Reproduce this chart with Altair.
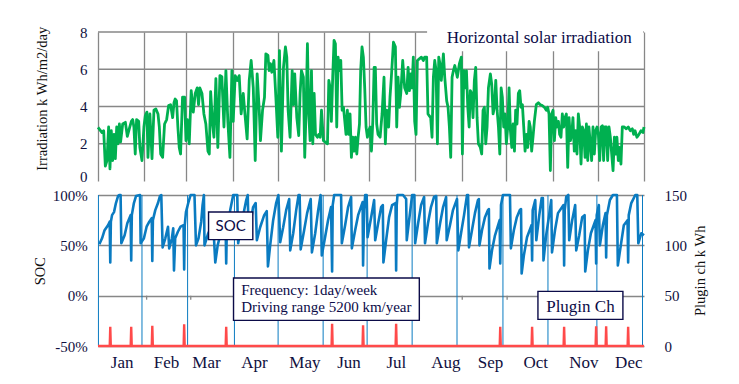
import altair as alt
import pandas as pd

GREEN = "#00b050"
BLUE = "#0a7bc1"
RED = "#ff4a4a"
NAVY = "#0b0b48"
GRID = "#878787"
SERIF = "Liberation Serif"

# ---------------- data ----------------
irr_day = [0, 2.7, 3.8, 4.9, 6.0, 7.1, 8.0, 8.9, 9.8, 10.7, 11.6, 12.5, 13.4, 14.3, 15.1, 16.5, 18.3, 19.6, 20.9, 22.3,
           23.2, 24.0, 24.9, 25.8, 27.2, 28.0, 29.4, 30.7, 31.6, 32.7, 33.4, 34.7, 36.1, 37.4, 38.7, 40.1, 41.0, 41.9, 43.2, 44.5,
           45.9, 47.2, 48.5, 49.9, 50.8, 51.6, 52.5, 53.4, 54.3, 55.2, 56.5, 57.9, 58.8, 59.7, 61.0, 62.3, 63.7, 65.0, 66.3, 67.2,
           68.1, 69.5, 70.8, 72.1, 73.5, 74.4, 75.3, 76.6, 77.5, 78.8, 80.1, 81.5, 82.8, 84.2, 85.5, 86.8, 88.2, 89.5, 90.4, 91.7,
           93.1, 94.4, 95.7, 97.1, 98.0, 99.7, 101.1, 102.4, 103.8, 105.1, 106.4, 107.8, 108.6, 110.0, 111.3, 112.2, 113.6, 114.4, 115.3, 116.2,
           117.6, 118.9, 120.2, 121.3,
           122.6, 124.0, 125.3, 126.2, 127.1, 128.4, 129.8, 130.7, 131.5, 132.9, 134.2, 135.1, 136.0, 137.3, 138.2, 139.1, 140.0, 140.9, 141.8, 142.7,
           143.6, 144.5, 145.4, 146.7, 147.6, 148.5, 149.4, 150.7, 152.0, 153.4, 154.3, 155.2, 156.0, 156.9, 157.8, 158.7, 159.6, 160.5, 161.4, 162.3,
           163.2, 164.1, 165.0, 165.8, 166.7, 167.6, 168.5, 169.4, 170.3, 171.2, 172.1, 173.0, 173.9, 174.8, 175.6, 176.5, 177.4, 178.3, 179.2, 180.1,
           181.0, 181.9, 182.8, 183.7, 184.6, 185.4, 186.3, 187.2, 188.6, 189.9, 191.2, 192.1, 193.0, 194.3, 195.2, 196.1, 197.5, 198.8, 199.7, 200.6,
           201.5, 202.4, 203.7, 205.0, 206.4, 207.3, 208.2, 209.1, 209.9, 210.8, 211.7, 212.6, 213.5, 214.8, 216.2, 217.5, 218.4, 219.7, 220.6, 221.5,
           222.4, 223.3, 224.2, 225.1, 226.0, 226.9, 227.8, 228.6, 229.5, 230.9, 231.8, 233.1, 234.0, 234.9, 235.8, 236.7, 237.6, 238.5, 239.3, 240.2,
           241.6, 242.9,
           243.6, 244.5, 245.4, 246.3, 247.2, 248.1, 248.9, 249.8, 250.7, 251.6, 252.5, 253.4, 254.3, 255.6, 256.5, 257.4, 258.3, 259.2, 260.1, 261.0,
           262.3, 263.2, 264.1, 265.0, 265.9, 266.8, 267.7, 268.6, 269.5, 270.3, 271.2, 272.1, 273.0, 273.9, 274.8, 275.7, 276.6, 277.5, 278.4, 279.2,
           280.1, 281.0, 281.9, 282.8, 283.7, 284.6, 285.5, 286.4, 287.3, 288.2, 289.0, 289.9, 290.8, 291.7, 293.0, 294.4, 295.7, 297.0, 298.4, 299.7,
           300.6, 301.5, 302.4, 303.3, 304.2, 305.1, 306.0, 306.9, 307.8, 308.6, 309.5, 310.4, 311.3, 312.2, 313.1, 314.0, 314.9, 315.8, 316.7, 317.5,
           318.4, 319.3, 320.2, 321.1, 322.0, 322.9, 323.8, 324.7, 325.6, 326.5, 327.4, 328.2, 329.1, 330.0, 330.9, 331.8, 332.7, 333.6, 334.5, 335.4,
           336.3, 337.2, 338.0, 338.9, 339.8, 340.7, 341.6, 342.5, 343.4, 344.3, 345.2, 346.0, 346.9, 347.8, 348.7, 349.6, 350.5, 351.8, 353.2, 354.5,
           355.8, 357.2, 358.1, 359.0, 360.3, 361.6, 363.0, 364.3, 365.0]
irr_val = [2.88, 2.6, 2.7, 0.8, 1.1, 2.9, 0.65, 2.7, 1.1, 2.5, 1.2, 2.9, 2.0, 3.06, 2.1, 3.06, 3.15, 2.4, 2.8, 3.2,
           3.3, 2.9, 1.45, 3.3, 3.2, 1.8, 1.1, 2.9, 3.5, 3.7, 1.27, 3.6, 1.2, 3.8, 3.87, 3.6, 2.9, 1.45, 1.27, 3.06,
           3.3, 4.05, 4.1, 3.4, 4.2, 4.4, 4.3, 2.9, 1.8, 1.45, 4.5, 4.5, 2.17, 3.3, 2.0, 4.85, 3.7, 4.7, 5.0, 4.1,
           5.0, 4.7, 3.6, 3.06, 1.6, 1.45, 4.8, 3.06, 2.35, 5.5, 1.8, 5.66, 5.6, 2.9, 5.93, 3.2, 1.27, 5.93, 3.2, 5.66,
           5.4, 5.66, 3.6, 4.7, 3.8, 2.26, 5.4, 6.47, 5.0, 1.1, 5.75, 3.8, 2.17, 3.8, 4.5, 6.83, 6.74, 5.93, 6.3, 5.84,
           6.47, 4.5, 2.35, 7.0,
           1.6, 6.1, 7.2, 6.65, 3.8, 2.35, 5.93, 4.1, 5.75, 3.4, 2.44, 4.7, 5.93, 5.57, 1.27, 3.8, 7.37, 3.6, 2.17, 5.93,
           2.0, 4.7, 2.5, 2.35, 2.5, 2.35, 3.8, 2.17, 2.08, 2.0, 5.4, 5.0, 3.2, 5.57, 7.55, 7.37, 2.9, 6.65, 5.93, 6.47,
           3.8, 3.96, 3.2, 2.5, 3.8, 2.5, 3.6, 1.27, 2.35, 1.6, 2.35, 1.45, 2.35, 3.06, 5.93, 7.2, 6.65, 5.0, 2.9, 2.35,
           2.7, 2.9, 1.6, 3.2, 6.1, 6.1, 3.06, 2.5, 2.35, 3.6, 5.57, 2.0, 3.8, 2.9, 4.5, 5.57, 7.45, 7.2, 2.9, 5.57,
           3.96, 4.7, 6.47, 5.0, 4.7, 6.1, 4.85, 5.75, 5.0, 6.65, 3.2, 2.5, 6.47, 6.56, 6.65, 6.47, 6.65, 6.65, 3.6, 3.5,
           3.4, 2.35, 5.57, 6.47, 5.93, 2.0, 6.65, 6.3, 5.4, 6.83, 5.57, 4.3, 3.96, 2.9, 1.27, 5.57, 5.93, 6.2, 5.93, 5.57,
           6.3, 6.65,
           1.45, 5.93, 5.0, 5.93, 3.96, 2.9, 4.85, 4.7, 3.4, 5.4, 6.1, 3.4, 2.0, 1.8, 1.45, 3.8, 3.96, 2.0, 2.9, 5.0,
           5.75, 5.2, 3.6, 3.96, 5.4, 3.8, 2.9, 1.45, 5.0, 4.5, 2.9, 3.6, 2.0, 2.9, 5.0, 2.7, 1.8, 3.06, 1.6, 3.8,
           3.06, 4.7, 4.85, 3.96, 4.1, 2.9, 1.6, 2.5, 1.8, 3.2, 2.9, 1.6, 2.35, 3.2, 4.1, 4.2, 4.1, 4.05, 3.96, 3.8,
           3.96, 3.6, 0.56, 3.6, 3.8, 2.17, 3.4, 2.9, 3.2, 2.5, 2.35, 3.6, 2.9, 3.4, 3.6, 0.73, 3.4, 2.17, 2.5, 3.4,
           1.6, 2.7, 1.45, 3.6, 2.9, 0.91, 2.9, 2.7, 1.27, 3.06, 1.1, 2.9, 2.0, 1.1, 2.9, 1.45, 2.7, 2.9, 2.5, 1.1,
           2.9, 2.97, 1.1, 2.9, 2.9, 1.1, 2.9, 2.35, 1.45, 0.56, 2.35, 1.45, 2.35, 1.1, 1.8, 0.91, 2.9, 2.9, 2.8, 2.9,
           2.7, 2.8, 2.5, 2.7, 2.35, 2.5, 2.7, 2.6, 2.9]

soc_day = [0.9, 2.7, 4.4, 6.7, 7.8, 8.2, 8.6, 9.4, 10.7, 12.0, 13.4, 14.2, 15.1, 15.6, 17.8, 19.6, 21.8, 22.2, 22.6, 24.0,
           25.4, 28.1, 28.5, 30.7, 32.5, 34.3, 35.9, 36.3, 36.7, 38.3, 40.1, 41.4, 42.3, 43.2, 45.0, 46.8, 47.6, 49.4, 50.3, 50.8,
           51.6, 53.4, 55.2, 57.2, 57.6, 58.0, 58.8, 60.5, 61.9, 64.5, 65.5, 67.2, 69.0, 69.9, 70.8, 71.2, 73.7, 77.0, 78.4, 80.0,
           82.0, 84.0, 85.3, 85.7, 86.1, 88.4, 90.4, 93.1,
           93.7, 96.4, 99.1, 100.1, 100.7, 101.7, 103.7, 105.4, 106.2, 108.4, 111.1, 112.8, 113.6, 115.1, 117.1, 119.1, 120.6,
           121.8, 123.8, 125.8, 127.8, 128.5, 130.5, 132.5, 134.1, 134.8, 135.5, 137.8, 139.8, 142.2, 143.0, 145.2, 147.2, 148.8, 149.6,
           151.8, 153.8, 155.8, 156.5, 156.9, 157.9, 162.5, 163.0, 165.2, 167.2, 169.2, 169.7, 171.9, 173.9, 176.9, 177.2, 177.9, 178.6,
           179.6, 180.2, 182.6, 184.6, 185.3, 187.3, 189.3, 190.4, 190.8, 192.6, 194.6, 196.6, 198.9, 199.3, 199.7, 200.2, 203.9, 206.0,
           206.4, 208.0, 210.0, 211.5, 212.0, 214.0, 216.0, 218.0, 218.6, 220.6, 222.6, 224.6, 226.1, 226.5, 228.7, 230.7, 232.7, 233.1,
           235.3, 237.3, 240.0, 240.9,
           242.7, 244.7, 246.7, 247.4, 248.0, 250.0, 252.0, 254.0, 254.6, 255.0, 256.7, 258.7, 260.7, 261.3, 261.7, 263.4, 265.4, 268.5,
           268.9, 269.4, 270.7, 275.4, 276.0, 278.0, 280.0, 282.0, 282.8, 283.2, 284.7, 286.8, 289.8, 290.2, 290.6, 292.3, 293.0, 295.0,
           296.6, 297.4, 297.8, 299.6, 301.6, 303.0, 303.5, 305.5, 307.5, 311.2, 311.6, 312.0, 313.0, 314.4, 315.0, 317.0, 319.0, 319.7,
           321.7, 323.7, 325.3, 325.7, 327.5, 329.5, 332.6, 333.0, 333.4, 334.8, 335.5, 337.5, 339.3, 339.7, 340.2, 342.2, 344.2, 346.9,
           347.5, 349.5, 351.5, 354.0, 354.4, 354.8, 356.5, 359.2, 360.5, 361.2, 363.2, 365.0]
soc_val = [51, 57, 65, 70, 73.5, 33, 73.5, 80, 83, 92, 99, 100, 100, 52, 60, 72, 80, 35, 80, 92,
           99, 100, 52, 57, 68.5, 73.5, 77, 34.5, 75, 85, 92, 99, 100, 48, 57, 68.5, 47, 57, 67, 25,
           57, 63.5, 68.5, 70, 26, 70, 83, 93, 100, 100, 50, 57, 73.5, 90, 100, 50, 62, 72, 33, 50,
           62, 68, 70, 32, 65, 85, 100, 100,
           52, 75, 95, 100, 60, 70, 88, 92, 55, 68, 80, 84, 29, 50, 75, 92, 100,
           53, 68, 85, 96, 45, 62, 85, 100, 100, 46, 65, 82, 96, 43, 62, 85, 100, 40,
           58, 75, 88, 24, 90, 100, 100, 52, 70, 88, 98, 47, 65, 80, 93, 30, 85, 100,
           100, 58, 78, 95, 55, 72, 88, 90, 33, 55, 78, 90, 92, 25, 90, 100, 100, 96,
           55, 75, 100, 100, 52, 72, 90, 98, 52, 72, 88, 98, 99, 52, 72, 88, 98, 55,
           70, 85, 96, 45,
           62, 80, 100, 100, 48, 65, 82, 95, 96, 50, 65, 78, 85, 86, 27, 45, 60, 75,
           32, 90, 100, 100, 47, 65, 78, 85, 86, 22, 40, 58, 70, 35, 85, 95, 55, 80,
           97, 97, 35, 60, 80, 95, 43, 65, 82, 90, 30, 85, 98, 100, 55, 75, 90, 45,
           60, 78, 80, 24, 45, 62, 75, 32, 80, 90, 50, 70, 82, 38, 80, 95, 100, 100,
           30, 50, 70, 75, 33, 80, 92, 100, 100, 52, 62, 60]

plug_day = [8.2, 22.2, 36.3, 57.6, 85.7, 156.5, 177.2, 199.3, 268.9, 290.2, 311.6, 333.0, 339.7, 354.4]
plug_val = [19, 19, 20, 21.5, 19, 22, 20.5, 22, 19, 19, 19, 19.5, 19.5, 19]

irr_ticks = [0, 2, 4, 6, 8]
irr_grid = [2, 4, 6, 8]
month_start_day = [0, 31, 59, 90, 120, 151, 181, 212, 243, 273, 304, 334, 365]
soc_rule_day = [0.3, 29.4, 59.9, 91.2, 120.4, 150.5, 179.9, 210, 240, 270.7, 300.8, 333.5, 364.0]
zero_tick_day = [32.5, 62, 92, 122, 152.5, 183, 213, 243.5, 273.5, 304.5, 335]
month_names = ["Jan", "Feb", "Mar", "Apr", "May", "Jun", "Jul", "Aug", "Sep", "Oct", "Nov", "Dec"]
month_label_day = [15.8, 45.5, 72.2, 104.3, 138.0, 167.5, 199.1, 232.2, 262.0, 292.3, 324.4, 354.5]

# ---------------- frames ----------------
irr_df = pd.DataFrame({"day": irr_day, "irr": irr_val})
soc_df = pd.DataFrame({"day": soc_day, "soc": soc_val, "i": range(len(soc_day))})

pl_rows = [(0.0, 0.0)]
for d, v in zip(plug_day, plug_val):
    pl_rows += [(d - 0.35, 0.0), (d, v), (d + 0.35, 0.0)]
pl_rows.append((365.0, 0.0))
plug_df = pd.DataFrame({"day": [r[0] for r in pl_rows], "kwh": [r[1] for r in pl_rows], "i": range(len(pl_rows))})

x_scale = alt.Scale(domain=[0, 365], nice=False, zero=False)
irr_scale = alt.Scale(domain=[0, 8], nice=False)

# ---------------- top panel ----------------
top_x_axis = alt.Axis(values=month_start_day, labels=False, ticks=False, domain=False, grid=True,
                      gridColor=GRID, gridWidth=1.3, title=None)
top_y_axis = alt.Axis(values=irr_ticks, grid=False, domain=False, ticks=False, labelPadding=11,
                      labelFlush=False, labelOverlap=False, tickCount=5,
                      labelBaseline={"condition": {"test": "datum.value === 0", "value": "alphabetic"},
                                     "value": "middle"},
                      title="Irradiation k Wh/m2/day", titleX=-55.7, titleY=66.3, titleBaseline="middle")

top_grid = alt.Chart(pd.DataFrame({"irr": irr_grid})).mark_rule(color=GRID, strokeWidth=1.3).encode(
    x=alt.datum(0, scale=x_scale, axis=top_x_axis), x2=alt.datum(365),
    y=alt.Y("irr:Q", scale=irr_scale, axis=top_y_axis))
top_line = alt.Chart(irr_df).mark_line(color=GREEN, strokeWidth=2.8, strokeJoin="round").encode(
    x=alt.X("day:Q", scale=x_scale, axis=top_x_axis),
    y=alt.Y("irr:Q", scale=irr_scale, axis=top_y_axis),
)
top_box = alt.Chart(pd.DataFrame({"day": [220], "day2": [364.5], "irr": [8.08], "irr2": [6.96]})).mark_rect(
    color="white").encode(x=alt.X("day:Q", scale=x_scale, axis=top_x_axis), x2="day2:Q",
                          y=alt.Y("irr:Q", scale=irr_scale, axis=top_y_axis), y2="irr2:Q")
top_text = alt.Chart(pd.DataFrame({"day": [233.1], "irr": [7.43], "label": ["Horizontal solar irradiation"]})).mark_text(
    align="left", baseline="alphabetic", font=SERIF, fontSize=17, color=NAVY).encode(
    x=alt.X("day:Q", scale=x_scale, axis=top_x_axis), y=alt.Y("irr:Q", scale=irr_scale, axis=top_y_axis),
    text="label:N")
top = alt.layer(top_grid, top_line, top_box, top_text).properties(width=546, height=149)

# ---------------- bottom panel ----------------
mids = [(month_label_day[k] + month_label_day[k + 1]) / 2 for k in range(len(month_label_day) - 1)]
label_expr = "".join(f"datum.value < {m:.2f} ? '{n}' : " for m, n in zip(mids, month_names[:-1])) + f"'{month_names[-1]}'"

bot_x_axis = alt.Axis(values=month_label_day, labelExpr=label_expr, ticks=False, domain=False, grid=False,
                      labelFontSize=17, labelPadding=16, labelBaseline="middle", labelFlush=False,
                      labelOverlap=False, title=None)

soc_line = alt.Chart(soc_df).mark_line(color=BLUE, strokeWidth=2.6, strokeJoin="round").encode(
    x=alt.X("day:Q", scale=x_scale, axis=bot_x_axis),
    y=alt.Y("soc:Q", scale=alt.Scale(domain=[-50, 100], nice=False),
            axis=alt.Axis(values=[-50, 0, 50, 100], labelExpr="datum.value + '%'", grid=True, gridColor=GRID,
                          gridWidth=1.3, domain=False, ticks=False, labelPadding=10.7, labelFlush=False,
                          labelOverlap=False, title="SOC", titleX=-57.7, titleY=75.6, titleBaseline="middle")),
    order="i:Q",
)
soc_rules = alt.Chart(pd.DataFrame({"day": soc_rule_day})).mark_rule(color=BLUE, strokeWidth=1).encode(
    x=alt.X("day:Q", scale=x_scale, axis=bot_x_axis), y=alt.datum(100), y2=alt.datum(-50))
zero_ticks = alt.Chart(pd.DataFrame({"day": zero_tick_day})).mark_rule(color=GRID, strokeWidth=1.3).encode(
    x=alt.X("day:Q", scale=x_scale, axis=bot_x_axis), y=alt.datum(0), y2=alt.datum(-4))
layer_a = alt.layer(soc_line, soc_rules, zero_ticks)

kwh_scale = alt.Scale(domain=[0, 150], nice=False)
kwh_axis = alt.Axis(orient="right", values=[0, 50, 100, 150], grid=False, domain=False, ticks=False,
                    labelPadding=20, labelFlush=False, labelOverlap=False, title="Plugin ch k Wh",
                    titleX=56, titleY=75.3, titleAngle=270, titleBaseline="middle")

plug_line = alt.Chart(plug_df).mark_line(color=RED, strokeWidth=2.4).encode(
    x=alt.X("day:Q", scale=x_scale, axis=bot_x_axis),
    y=alt.Y("kwh:Q", scale=kwh_scale, axis=kwh_axis),
    order="i:Q",
)
boxes = alt.Chart(pd.DataFrame({"day": [73.9, 90.6, 294.1], "day2": [103.5, 214.8, 350.9],
                                "kwh": [133.1, 67.5, 54.3], "kwh2": [105.7, 25.5, 26.4]})).mark_rect(
    fill="white", stroke=NAVY, strokeWidth=1.4).encode(
    x=alt.X("day:Q", scale=x_scale, axis=bot_x_axis), x2="day2:Q",
    y=alt.Y("kwh:Q", scale=kwh_scale, axis=kwh_axis), y2="kwh2:Q")
freq_text = alt.Chart(pd.DataFrame({"day": [95.7, 95.7], "kwh": [50.3, 33.7],
                                    "label": ["Frequency: 1day/week", "Driving range 5200 km/year"]})).mark_text(
    align="left", baseline="alphabetic", font=SERIF, fontSize=15, color=NAVY).encode(
    x=alt.X("day:Q", scale=x_scale, axis=bot_x_axis), y=alt.Y("kwh:Q", scale=kwh_scale, axis=kwh_axis),
    text="label:N")
plug_text = alt.Chart(pd.DataFrame({"day": [322.5], "kwh": [33.7], "label": ["Plugin Ch"]})).mark_text(
    align="center", baseline="alphabetic", font=SERIF, fontSize=17, color=NAVY).encode(
    x=alt.X("day:Q", scale=x_scale, axis=bot_x_axis), y=alt.Y("kwh:Q", scale=kwh_scale, axis=kwh_axis),
    text="label:N")
soc_text = alt.Chart(pd.DataFrame({"day": [88.7], "kwh": [114.2], "label": ["SOC"]})).mark_text(
    align="center", baseline="alphabetic", font="Lato", fontSize=15, color=NAVY).encode(
    x=alt.X("day:Q", scale=x_scale, axis=bot_x_axis), y=alt.Y("kwh:Q", scale=kwh_scale, axis=kwh_axis),
    text="label:N")
layer_b = alt.layer(plug_line, boxes, freq_text, plug_text, soc_text)

bottom = alt.layer(layer_a, layer_b).resolve_scale(y="independent").properties(width=546, height=151)

chart = alt.vconcat(top, bottom, spacing=4).properties(
    padding={"left": 24, "top": 17, "right": 5, "bottom": 5}
).configure_view(stroke=None).configure_axis(
    labelFont=SERIF, titleFont=SERIF, labelFontSize=15, titleFontSize=14.5, titleFontWeight="normal",
    labelColor="#101040", titleColor="#111111"
)

chart.save("out.html", embed_options={"renderer": "svg", "actions": False})
